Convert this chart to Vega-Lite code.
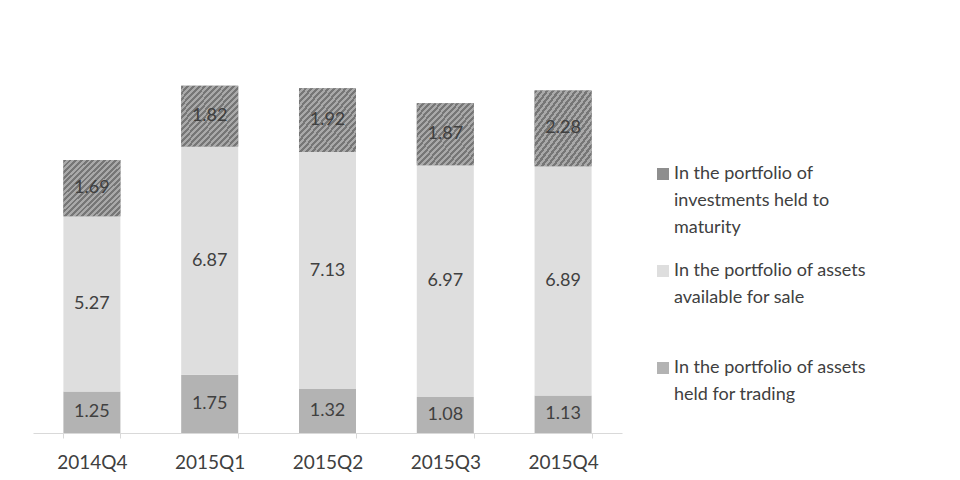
{
  "$schema": "https://vega.github.io/schema/vega-lite/v6.json",
  "width": 589,
  "height": 399,
  "autosize": {"type": "none"},
  "padding": {"left": 33, "top": 34, "right": 338, "bottom": 47},
  "background": "white",
  "config": {"view": {"stroke": null}, "font": "Lato", "style": {"guide-label": {"lineHeight": 27}}},
  "data": {
    "values": [
      {"quarter": "2014Q4", "series": "trading", "k": 1, "value": 1.25},
      {"quarter": "2014Q4", "series": "afs", "k": 2, "value": 5.27},
      {"quarter": "2014Q4", "series": "htm", "k": 3, "value": 1.69},
      {"quarter": "2015Q1", "series": "trading", "k": 1, "value": 1.75},
      {"quarter": "2015Q1", "series": "afs", "k": 2, "value": 6.87},
      {"quarter": "2015Q1", "series": "htm", "k": 3, "value": 1.82},
      {"quarter": "2015Q2", "series": "trading", "k": 1, "value": 1.32},
      {"quarter": "2015Q2", "series": "afs", "k": 2, "value": 7.13},
      {"quarter": "2015Q2", "series": "htm", "k": 3, "value": 1.92},
      {"quarter": "2015Q3", "series": "trading", "k": 1, "value": 1.08},
      {"quarter": "2015Q3", "series": "afs", "k": 2, "value": 6.97},
      {"quarter": "2015Q3", "series": "htm", "k": 3, "value": 1.87},
      {"quarter": "2015Q4", "series": "trading", "k": 1, "value": 1.13},
      {"quarter": "2015Q4", "series": "afs", "k": 2, "value": 6.89},
      {"quarter": "2015Q4", "series": "htm", "k": 3, "value": 2.28}
    ]
  },
  "transform": [
    {"stack": "value", "groupby": ["quarter"], "sort": [{"field": "k", "order": "ascending"}], "as": ["v0", "v1"]},
    {"calculate": "(datum.v0 + datum.v1) / 2", "as": "vm"}
  ],
  "encoding": {
    "x": {
      "field": "quarter",
      "type": "nominal",
      "scale": {"paddingInner": 0.516, "paddingOuter": 0.258},
      "axis": {
        "title": null,
        "labelAngle": 0,
        "labelFontSize": 19,
        "labelColor": "#404040",
        "labelPadding": 15,
        "domainColor": "#d9d9d9",
        "tickColor": "#d9d9d9",
        "tickSize": 5,
        "tickBand": "extent"
      }
    }
  },
  "layer": [
    {
      "mark": {"type": "bar"},
      "encoding": {
        "y": {"field": "v0", "type": "quantitative", "scale": {"domain": [0, 12]}, "axis": null},
        "y2": {"field": "v1"},
        "color": {
          "field": "series",
          "type": "nominal",
          "scale": {"domain": ["htm", "afs", "trading"], "range": ["#8e8e8e", "#dedede", "#b3b3b3"]},
          "legend": {
            "title": null,
            "orient": "none",
            "legendX": 621,
            "legendY": 131,
            "symbolType": "square",
            "symbolSize": 144,
            "symbolStrokeWidth": 0,
            "symbolOpacity": 1,
            "labelFontSize": 18,
            "labelColor": "#404040",
            "labelLimit": 400,
            "labelOffset": 2,
            "labelBaseline": "middle",
            "rowPadding": 25,
            "labelExpr": "datum.value == 'htm' ? ['In the portfolio of', 'investments held to', 'maturity'] : datum.value == 'afs' ? ['In the portfolio of assets', 'available for sale', ''] : ['In the portfolio of assets', 'held for trading', '']"
          }
        }
      }
    },
    {
      "transform": [{"filter": "datum.series == 'htm'"}],
      "mark": {
        "type": "bar",
        "fill": {
          "gradient": "linear", "x1": 0, "y1": 0, "x2": 1, "y2": 1,
          "stops": [
            {"offset": 0, "color": "#767676"}, {"offset": 0.025, "color": "#767676"}, {"offset": 0.025, "color": "#a9a9a9"}, {"offset": 0.05, "color": "#a9a9a9"},
            {"offset": 0.05, "color": "#767676"}, {"offset": 0.075, "color": "#767676"}, {"offset": 0.075, "color": "#a9a9a9"}, {"offset": 0.1, "color": "#a9a9a9"},
            {"offset": 0.1, "color": "#767676"}, {"offset": 0.125, "color": "#767676"}, {"offset": 0.125, "color": "#a9a9a9"}, {"offset": 0.15, "color": "#a9a9a9"},
            {"offset": 0.15, "color": "#767676"}, {"offset": 0.175, "color": "#767676"}, {"offset": 0.175, "color": "#a9a9a9"}, {"offset": 0.2, "color": "#a9a9a9"},
            {"offset": 0.2, "color": "#767676"}, {"offset": 0.225, "color": "#767676"}, {"offset": 0.225, "color": "#a9a9a9"}, {"offset": 0.25, "color": "#a9a9a9"},
            {"offset": 0.25, "color": "#767676"}, {"offset": 0.275, "color": "#767676"}, {"offset": 0.275, "color": "#a9a9a9"}, {"offset": 0.3, "color": "#a9a9a9"},
            {"offset": 0.3, "color": "#767676"}, {"offset": 0.325, "color": "#767676"}, {"offset": 0.325, "color": "#a9a9a9"}, {"offset": 0.35, "color": "#a9a9a9"},
            {"offset": 0.35, "color": "#767676"}, {"offset": 0.375, "color": "#767676"}, {"offset": 0.375, "color": "#a9a9a9"}, {"offset": 0.4, "color": "#a9a9a9"},
            {"offset": 0.4, "color": "#767676"}, {"offset": 0.425, "color": "#767676"}, {"offset": 0.425, "color": "#a9a9a9"}, {"offset": 0.45, "color": "#a9a9a9"},
            {"offset": 0.45, "color": "#767676"}, {"offset": 0.475, "color": "#767676"}, {"offset": 0.475, "color": "#a9a9a9"}, {"offset": 0.5, "color": "#a9a9a9"},
            {"offset": 0.5, "color": "#767676"}, {"offset": 0.525, "color": "#767676"}, {"offset": 0.525, "color": "#a9a9a9"}, {"offset": 0.55, "color": "#a9a9a9"},
            {"offset": 0.55, "color": "#767676"}, {"offset": 0.575, "color": "#767676"}, {"offset": 0.575, "color": "#a9a9a9"}, {"offset": 0.6, "color": "#a9a9a9"},
            {"offset": 0.6, "color": "#767676"}, {"offset": 0.625, "color": "#767676"}, {"offset": 0.625, "color": "#a9a9a9"}, {"offset": 0.65, "color": "#a9a9a9"},
            {"offset": 0.65, "color": "#767676"}, {"offset": 0.675, "color": "#767676"}, {"offset": 0.675, "color": "#a9a9a9"}, {"offset": 0.7, "color": "#a9a9a9"},
            {"offset": 0.7, "color": "#767676"}, {"offset": 0.725, "color": "#767676"}, {"offset": 0.725, "color": "#a9a9a9"}, {"offset": 0.75, "color": "#a9a9a9"},
            {"offset": 0.75, "color": "#767676"}, {"offset": 0.775, "color": "#767676"}, {"offset": 0.775, "color": "#a9a9a9"}, {"offset": 0.8, "color": "#a9a9a9"},
            {"offset": 0.8, "color": "#767676"}, {"offset": 0.825, "color": "#767676"}, {"offset": 0.825, "color": "#a9a9a9"}, {"offset": 0.85, "color": "#a9a9a9"},
            {"offset": 0.85, "color": "#767676"}, {"offset": 0.875, "color": "#767676"}, {"offset": 0.875, "color": "#a9a9a9"}, {"offset": 0.9, "color": "#a9a9a9"},
            {"offset": 0.9, "color": "#767676"}, {"offset": 0.925, "color": "#767676"}, {"offset": 0.925, "color": "#a9a9a9"}, {"offset": 0.95, "color": "#a9a9a9"},
            {"offset": 0.95, "color": "#767676"}, {"offset": 0.975, "color": "#767676"}, {"offset": 0.975, "color": "#a9a9a9"}, {"offset": 1, "color": "#a9a9a9"}
          ]
        }
      },
      "encoding": {
        "y": {"field": "v0", "type": "quantitative"},
        "y2": {"field": "v1"}
      }
    },
    {
      "mark": {"type": "text", "fontSize": 18, "fill": "#404040", "baseline": "middle"},
      "encoding": {
        "y": {"field": "vm", "type": "quantitative"},
        "text": {"field": "value", "type": "quantitative", "format": ".2f"}
      }
    }
  ]
}
